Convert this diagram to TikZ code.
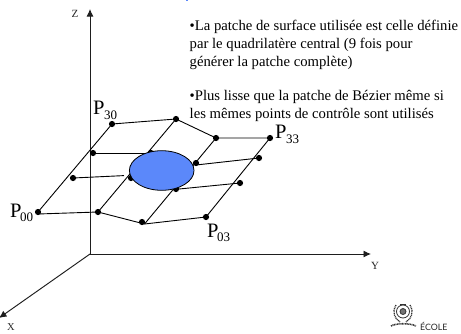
\documentclass[tikz,border=0pt]{standalone}
\usepackage{fontspec}
\setmainfont{Liberation Serif}
\newfontfamily\logofont{Lato}
\usetikzlibrary{arrows.meta}
\definecolor{patchblue}{RGB}{91,136,250}
\definecolor{axisgray}{RGB}{30,30,30}
\tikzset{
  ctrl/.style={circle,fill=black,inner sep=0pt,minimum size=6.2pt},
  grid line/.style={draw=black,line width=0.9pt},
  axis line/.style={draw=axisgray,line width=0.95pt,-{Latex[length=7.5pt,width=7pt]}},
  body text/.style={anchor=base west,inner sep=0pt,font=\fontsize{14.7}{14.7}\selectfont},
  axis text/.style={anchor=base,inner sep=0pt,font=\fontsize{11}{11}\selectfont,text=black!85},
  pname/.style={anchor=base west,inner sep=0pt,font=\fontsize{20.5}{20.5}\selectfont},
  psub/.style={anchor=base west,inner sep=0pt,font=\fontsize{13}{13}\selectfont},
  emblem/.style={draw=black!80,line width=0.8pt},
}
\begin{document}
\begin{tikzpicture}[x=1pt,y=-1pt]
\useasboundingbox (0,0) rectangle (461,333);
\fill[white] (0,0) rectangle (461,333);
\begin{scope}
\clip (0,0) rectangle (461,333);
\fill[patchblue] (185.5,0) rectangle (188,1.2);
% axes
\coordinate (O) at (90,254);
\coordinate (zt) at (90,9);
\coordinate (yt) at (371,254);
\coordinate (xt) at (-1,318);
\draw[axis line] (O) -- (zt);
\draw[axis line] (O) -- (yt);
\draw[axis line] (O) -- (xt);
\end{scope}
\node[axis text] (zl) at (75,17) {Z};
\node[axis text] (yl) at (375,269) {Y};
\node[axis text,font=\fontsize{10.5}{10.5}\selectfont] (xl) at (11,330.5) {X};
% control points
\node[ctrl] (p00) at (38,212) {};
\node[ctrl] (p01) at (98,212) {};
\node[ctrl] (p02) at (142,222) {};
\node[ctrl] (p03) at (206,217) {};
\node[ctrl] (p10) at (73,178) {};
\node[ctrl] (p11) at (131,178) {};
\node[ctrl] (p12) at (176,189) {};
\node[ctrl] (p13) at (240,183) {};
\node[ctrl] (p20) at (93,153) {};
\node[ctrl] (p21) at (151,153) {};
\node[ctrl] (p22) at (196,163) {};
\node[ctrl] (p23) at (259,158) {};
\node[ctrl] (p30) at (112,124) {};
\node[ctrl] (p31) at (176,119) {};
\node[ctrl] (p32) at (216,138) {};
\node[ctrl] (p33) at (270,138) {};
\coordinate (v02) at (144.5,224);
\coordinate (v00) at (38,214);
\coordinate (v22) at (196,165);
\coordinate (v12) at (174,189.5);
% grid
\draw[grid line] (p00.center) -- (p30.center);
\draw[grid line] (p01.center) -- (p31.center);
\draw[grid line] (v02) -- (p32.center);
\draw[grid line] (p03.center) -- (p33.center);
\draw[grid line] (v00) -- (p01.center) -- (v02) -- (p03.center);
\draw[grid line] (p30.center) -- (p31.center) -- (p32.center) -- (p33.center);
\draw[grid line] (p20.center) -- (p21.center);
\draw[grid line] (v22) -- (p23.center);
\coordinate (e10) at (124,175.6);
\draw[grid line] (p10.center) -- (e10);
\draw[grid line] (v12) -- (p13.center);
% central surface patch
\filldraw[draw=black,line width=0.8pt,fill=patchblue] (161.7,170.5) ellipse [x radius=32.3,y radius=19.8];
% text
\node[body text] (t1) at (189.5,30) {•La patche de surface utilisée est celle définie};
\node[body text] (t2) at (189.5,48) {par le quadrilatère central (9 fois pour};
\node[body text] (t3) at (189.5,66) {générer la patche complète)};
\node[body text] (t4) at (189.5,100.5) {•Plus lisse que la patche de Bézier même si};
\node[body text] (t5) at (189.5,118.5) {les mêmes points de contrôle sont utilisés};
% point labels
\node[pname] (l30) at (93,114) {P};
\node[psub] (s30) at (104,119) {30};
\node[pname] (l33) at (275,138) {P};
\node[psub] (s33) at (286,143) {33};
\node[pname] (l00) at (10,217.5) {P};
\node[psub] (s00) at (20,221.5) {00};
\node[pname] (l03) at (207,237.5) {P};
\node[psub] (s03) at (217,241.5) {03};
% logo
\draw[emblem] (403,311.5) circle (6.5);
\draw[emblem,fill=black!55] (403,311.5) circle (3);
\draw[emblem,line width=1.3pt,dash pattern=on 1pt off 0.7pt] (396,305) .. controls (392,312) and (394,318) .. (400,322);
\draw[emblem,line width=1.3pt,dash pattern=on 1pt off 0.7pt] (410,305) .. controls (414,312) and (412,318) .. (406,322);
\draw[emblem,line width=1.6pt,dash pattern=on 1pt off 0.6pt] (391,326) .. controls (396,323) and (410,323) .. (416,326);
\draw[emblem] (400,304) -- (406,304);
\node[anchor=base west,inner sep=0pt,font=\logofont\fontsize{8.8}{8.8}\selectfont,text=black!85] (ecole) at (420,330) {ÉCOLE};
\end{tikzpicture}
\end{document}
